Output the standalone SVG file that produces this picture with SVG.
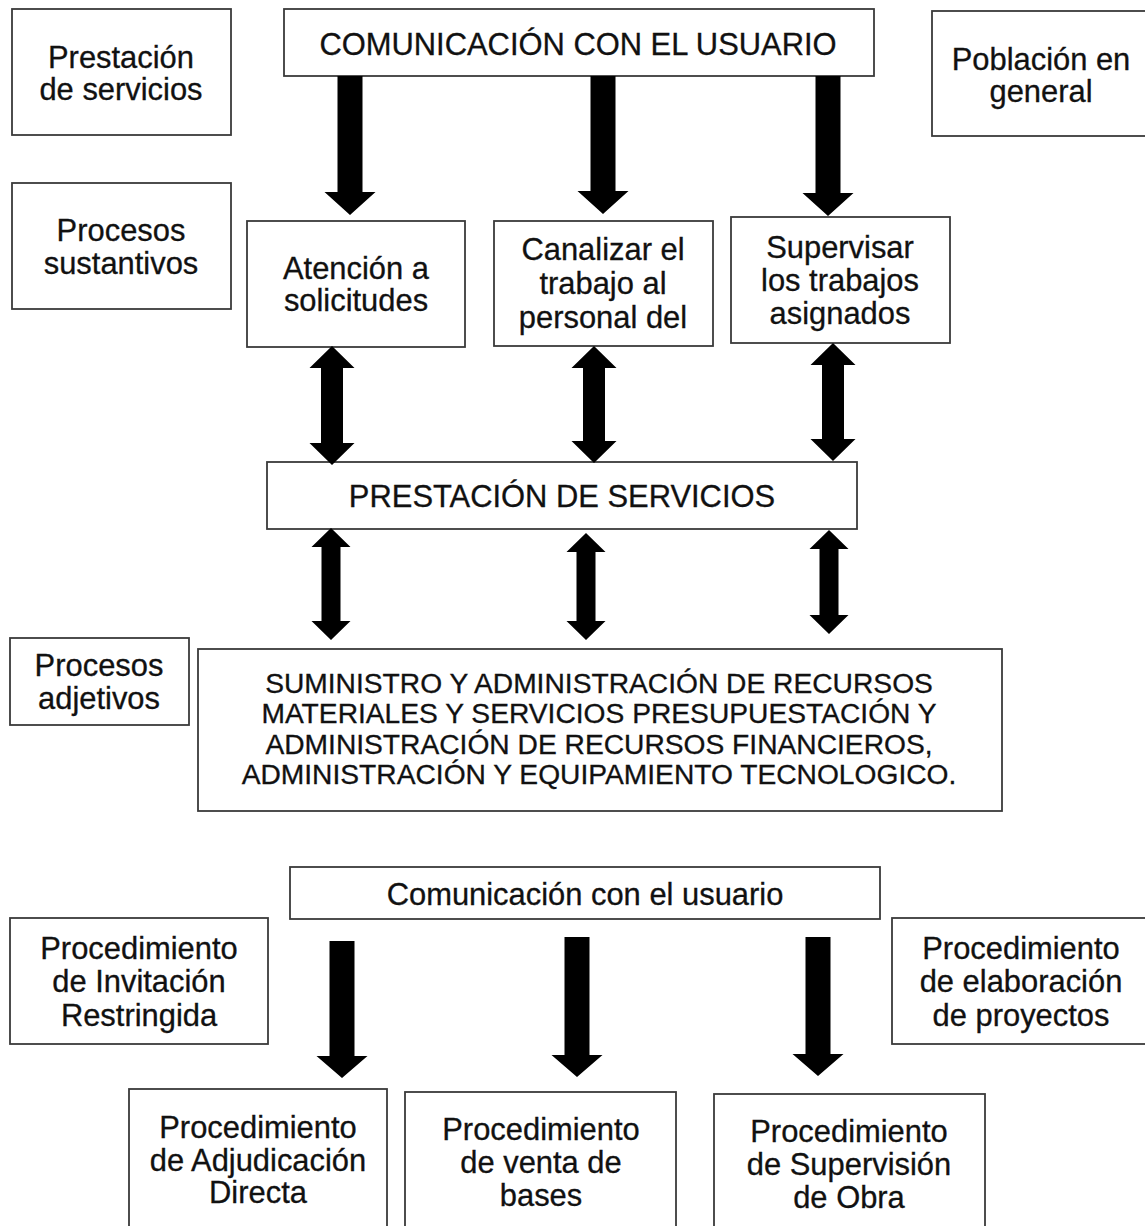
<svg xmlns="http://www.w3.org/2000/svg" width="1145" height="1226" viewBox="0 0 1145 1226">
<style>
.b{fill:#fff;stroke:#3a3a3a;stroke-width:1.8}
.t{font-family:"Liberation Sans",Arial,sans-serif;font-size:30.9px;fill:#111;stroke:#111;stroke-width:0.3;text-anchor:middle}
.s{font-size:28.2px}
.a{fill:#000}
</style>
<rect width="1145" height="1226" fill="#fff"/>
<g id="n-prestacion-lbl"><rect class="b" x="12" y="9" width="219" height="126"/><text class="t" x="121" y="68">Prestación</text><text class="t" x="121" y="100">de servicios</text></g>
<g id="n-comunicacion"><rect class="b" x="284" y="9" width="590" height="67"/><text class="t" x="578" y="55">COMUNICACIÓN CON EL USUARIO</text></g>
<g id="n-poblacion"><rect class="b" x="932" y="11" width="230" height="125"/><text class="t" x="1041" y="70">Población en</text><text class="t" x="1041" y="102">general</text></g>
<g id="n-sustantivos"><rect class="b" x="12" y="183" width="219" height="126"/><text class="t" x="121" y="241">Procesos</text><text class="t" x="121" y="274">sustantivos</text></g>
<g id="n-atencion"><rect class="b" x="247" y="221" width="218" height="126"/><text class="t" x="356" y="279">Atención a</text><text class="t" x="356" y="311">solicitudes</text></g>
<g id="n-canalizar"><rect class="b" x="494" y="221" width="219" height="125"/><text class="t" x="603" y="260">Canalizar el</text><text class="t" x="603" y="294">trabajo al</text><text class="t" x="603" y="328">personal del</text></g>
<g id="n-supervisar"><rect class="b" x="731" y="217" width="219" height="126"/><text class="t" x="840" y="258">Supervisar</text><text class="t" x="840" y="291">los trabajos</text><text class="t" x="840" y="324">asignados</text></g>
<g id="n-prestacion"><rect class="b" x="267" y="462" width="590" height="67"/><text class="t" x="562" y="507">PRESTACIÓN DE SERVICIOS</text></g>
<g id="n-adjetivos"><rect class="b" x="10" y="638" width="179" height="87"/><text class="t" x="99" y="676">Procesos</text><text class="t" x="99" y="709">adjetivos</text></g>
<g id="n-suministro"><rect class="b" x="198" y="649" width="804" height="162"/><text class="t s" x="599" y="693">SUMINISTRO Y ADMINISTRACIÓN DE RECURSOS</text><text class="t s" x="599" y="723">MATERIALES Y SERVICIOS PRESUPUESTACIÓN Y</text><text class="t s" x="599" y="754">ADMINISTRACIÓN DE RECURSOS FINANCIEROS,</text><text class="t s" x="599" y="784">ADMINISTRACIÓN Y EQUIPAMIENTO TECNOLOGICO.</text></g>
<g id="n-comunicacion2"><rect class="b" x="290" y="867" width="590" height="52"/><text class="t" x="585" y="905">Comunicación con el usuario</text></g>
<g id="n-invitacion"><rect class="b" x="10" y="918" width="258" height="126"/><text class="t" x="139" y="959">Procedimiento</text><text class="t" x="139" y="992">de Invitación</text><text class="t" x="139" y="1026">Restringida</text></g>
<g id="n-elaboracion"><rect class="b" x="892" y="918" width="270" height="126"/><text class="t" x="1021" y="959">Procedimiento</text><text class="t" x="1021" y="992">de elaboración</text><text class="t" x="1021" y="1026">de proyectos</text></g>
<g id="n-adjudicacion"><rect class="b" x="129" y="1089" width="258" height="150"/><text class="t" x="258" y="1138">Procedimiento</text><text class="t" x="258" y="1171">de Adjudicación</text><text class="t" x="258" y="1203">Directa</text></g>
<g id="n-venta"><rect class="b" x="405" y="1092" width="271" height="150"/><text class="t" x="541" y="1140">Procedimiento</text><text class="t" x="541" y="1173">de venta de</text><text class="t" x="541" y="1206">bases</text></g>
<g id="n-supervision"><rect class="b" x="714" y="1094" width="271" height="150"/><text class="t" x="849" y="1142">Procedimiento</text><text class="t" x="849" y="1175">de Supervisión</text><text class="t" x="849" y="1208">de Obra</text></g>
<g id="connectors">
<path class="a" d="M337.5 76H362.5V192H375.5L350 215L324.5 192H337.5Z"/>
<path class="a" d="M590.5 76H615.5V191H628.5L603 214L577.5 191H590.5Z"/>
<path class="a" d="M815.5 76H840.5V193H853.5L828 216L802.5 193H815.5Z"/>
<path class="a" d="M332 346L354.5 368H343V443H354.5L332 465L309.5 443H321V368H309.5Z"/>
<path class="a" d="M594 346L616.5 368H605V441H616.5L594 463L571.5 441H583V368H571.5Z"/>
<path class="a" d="M833 343L855.5 365H844V439H855.5L833 461L810.5 439H822V365H810.5Z"/>
<path class="a" d="M331 528L350.5 547H340.5V621H350.5L331 640L311.5 621H321.5V547H311.5Z"/>
<path class="a" d="M586 533L605.5 552H595.5V621H605.5L586 640L566.5 621H576.5V552H566.5Z"/>
<path class="a" d="M829 530L848.5 549H838.5V615H848.5L829 634L809.5 615H819.5V549H809.5Z"/>
<path class="a" d="M329.5 941H354.5V1056H367.5L342 1078L316.5 1056H329.5Z"/>
<path class="a" d="M564.5 937H589.5V1055H602.5L577 1077L551.5 1055H564.5Z"/>
<path class="a" d="M805.5 937H830.5V1054H843.5L818 1076L792.5 1054H805.5Z"/>
</g>
</svg>
